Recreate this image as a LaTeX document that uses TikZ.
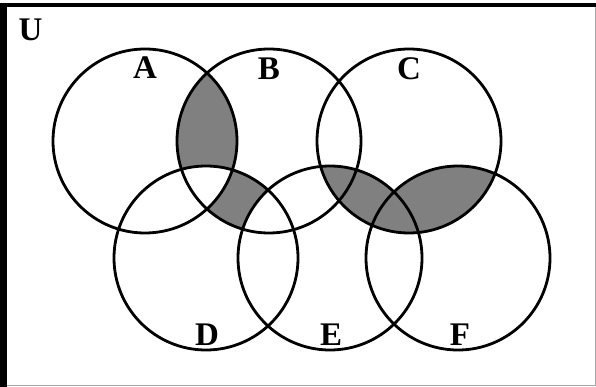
\documentclass[tikz,border=0pt]{standalone}
\usepackage{fontspec}
\setmainfont{Liberation Serif}
\begin{document}
\begin{tikzpicture}[x=1pt,y=-1pt,
  setline/.style={line width=2.8pt,draw=black},
  shade/.style={fill=shadegray},
  lbl/.style={font=\fontsize{33}{33}\selectfont\bfseries,inner sep=0pt}]
\definecolor{shadegray}{RGB}{128,128,128}
\definecolor{framegray}{RGB}{165,165,165}
\def\R{92pt}
\useasboundingbox (0,0) rectangle (596,387);
\fill[white] (0,0) rectangle (596,387);
% centres
\coordinate (cA) at (145,141);
\coordinate (cB) at (269,141);
\coordinate (cC) at (409,141);
\coordinate (cD) at (206,258);
\coordinate (cE) at (330,258);
\coordinate (cF) at (458,258);
% shading: (A and B) minus D
\begin{scope}
  \clip (cA) circle (\R);
  \clip (cB) circle (\R);
  \fill[shade] (0,0) rectangle (596,387);
  \fill[white] (cD) circle (\R);
\end{scope}
% shading: (B and D) minus A minus E
\begin{scope}
  \clip (cB) circle (\R);
  \clip (cD) circle (\R);
  \fill[shade] (0,0) rectangle (596,387);
  \fill[white] (cA) circle (\R);
  \fill[white] (cE) circle (\R);
\end{scope}
% shading: C and (E or F)
\begin{scope}
  \clip (cC) circle (\R);
  \fill[shade] (cE) circle (\R);
  \fill[shade] (cF) circle (\R);
\end{scope}
% outlines
\foreach \c in {cA,cB,cC,cD,cE,cF} \draw[setline] (\c) circle (\R);
% frame
\draw[line width=1pt,framegray] (0,385) -- (595,385) -- (595,5);
\draw[line width=4pt,black] (0,5.3) -- (596,5.3);
\draw[line width=6.7pt,black] (3.35,3.3) -- (3.35,387);
% labels
\node[lbl] (lU) at (30.5,30) {U};
\node[lbl] (lA) at (145,67.5) {A};
\node[lbl] (lB) at (269,68.5) {B};
\node[lbl] (lC) at (409,68.5) {C};
\node[lbl] (lD) at (207,335) {D};
\node[lbl] (lE) at (331,335) {E};
\node[lbl] (lF) at (460,335) {F};
\end{tikzpicture}
\end{document}
